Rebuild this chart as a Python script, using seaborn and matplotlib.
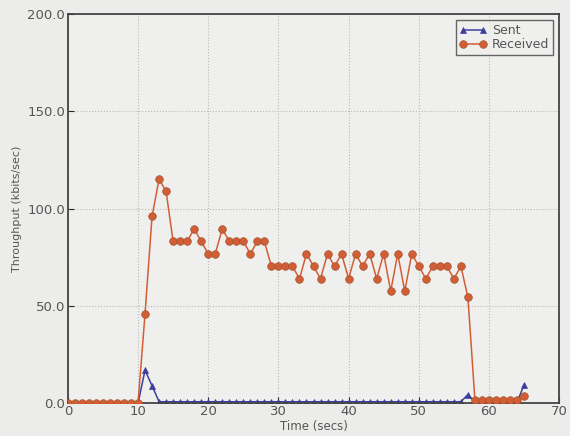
import matplotlib
matplotlib.use("Agg")
import matplotlib.pyplot as plt
import seaborn as sns
import pandas as pd
from matplotlib.lines import Line2D

times = list(range(0, 66))
sent = ([0.0] * 11 + [17.0, 9.0] + [0.8] * 44 + [4.5] + [0.5] * 7 + [9.5])
received = ([0.0] * 11 +
            [46.0, 96.0, 115.2, 108.8,
             83.2, 83.2, 83.2, 89.6, 83.2, 76.8, 76.8, 89.6, 83.2, 83.2,
             83.2, 76.8, 83.2, 83.2, 70.4, 70.4, 70.4, 70.4, 64.0, 76.8,
             70.4, 64.0, 76.8, 70.4, 76.8, 64.0, 76.8, 70.4, 76.8, 64.0,
             76.8, 57.6, 76.8, 57.6, 76.8, 70.4, 64.0, 70.4, 70.4, 70.4,
             64.0, 70.4, 54.4] +
            [1.5] * 7 + [4.0])
series_names = ["Sent", "Received"]
x_ticks = [0, 10, 20, 30, 40, 50, 60, 70]
y_ticks = [0, 50, 100, 150, 200]

df = pd.DataFrame({
    "Time": times * 2,
    "Throughput": sent + received,
    "Series": [series_names[0]] * len(times) + [series_names[1]] * len(times),
})

sns.set_style("ticks")
plt.rcParams["font.family"] = ["DejaVu Sans"]

fig = plt.figure(figsize=(5.7, 4.36), dpi=100)
fig.patch.set_facecolor("#ececea")
ax = fig.add_axes([0.119, 0.075, 0.862, 0.893])
ax.set_facecolor("#efefed")

palette = {"Sent": "#3d3f9e", "Received": "#d35e36"}
markers = {"Sent": "^", "Received": "o"}
msizes = {"Sent": 4.5, "Received": 5.5}
medge = {"Sent": "#3d3f9e", "Received": "#a0552e"}
for name in series_names:
    sns.lineplot(data=df[df["Series"] == name], x="Time", y="Throughput",
                 color=palette[name], marker=markers[name], ax=ax,
                 linewidth=1.1, markersize=msizes[name], markeredgewidth=0.5,
                 markeredgecolor=medge[name], legend=False,
                 zorder=2 if name == "Sent" else 3)

ax.set_xlim(0, 70)
ax.set_ylim(0, 200)
ax.set_xticks(x_ticks)
ax.set_yticks(y_ticks)
ax.set_yticklabels([f"{v:.1f}" for v in y_ticks])
ax.tick_params(labelsize=9.5, direction="in", length=4)
ax.tick_params(axis="x", pad=1)
ax.tick_params(axis="y", pad=2)
for t in ax.get_xticklabels() + ax.get_yticklabels():
    t.set_color("#555555")
ax.grid(True, linestyle=":", color="#b8b8b8", linewidth=0.8)
for s in ax.spines.values():
    s.set_color("#444444")
    s.set_linewidth(1.3)

ax.set_xlabel("Time (secs)", fontsize=8.5, color="#555555", labelpad=2)
ax.set_ylabel("Throughput (kbits/sec)", fontsize=8, color="#555555", labelpad=4)

handles = [Line2D([], [], color=palette[n], marker=markers[n], markersize=msizes[n],
                  markeredgecolor=medge[n], markeredgewidth=0.5, linewidth=1.1)
           for n in series_names]
leg = ax.legend(handles, series_names, loc="upper right", numpoints=2,
                fontsize=9, frameon=True, fancybox=False, handlelength=2.2,
                borderpad=0.3, labelspacing=0.1, handletextpad=0.4,
                borderaxespad=0.5)
leg.get_frame().set_edgecolor("#444444")
leg.get_frame().set_facecolor("#efefed")
leg.get_frame().set_linewidth(1.0)
for t in leg.get_texts():
    t.set_color("#555555")

fig.savefig("out.png", dpi=100, facecolor=fig.get_facecolor())
